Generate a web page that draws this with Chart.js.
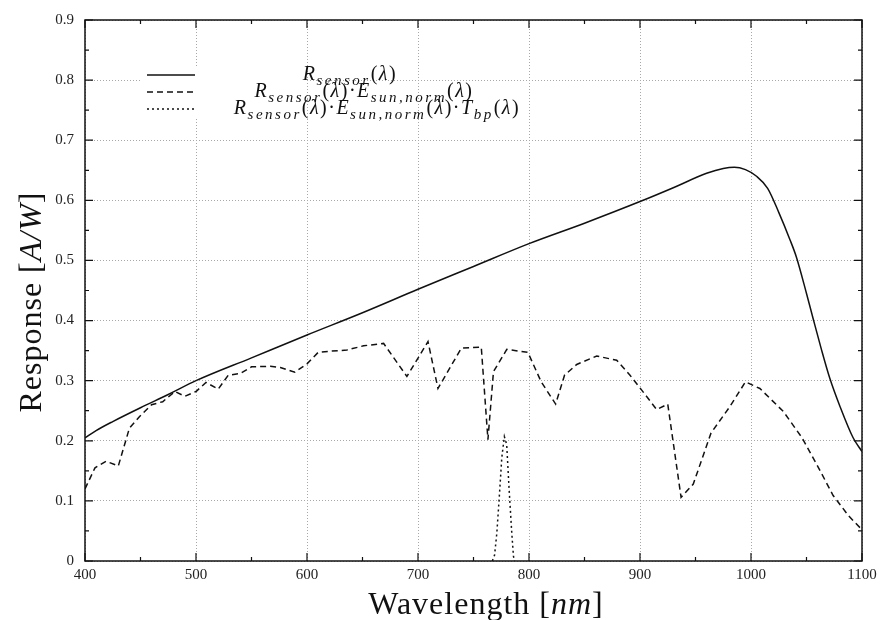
<!DOCTYPE html>
<html>
<head>
<meta charset="utf-8">
<script src="https://cdn.jsdelivr.net/npm/chart.js@4.4.0/dist/chart.umd.min.js"></script>
<style>
  html, body { margin: 0; padding: 0; background: #fff; }
</style>
</head>
<body>
<canvas id="respChart" width="885" height="620"></canvas>
<script>
// sensor responsivity R_sensor(lambda)
const sensorWl   = [400, 410, 425, 450, 475, 500, 550, 600, 650, 700, 750, 800, 850, 900, 930, 960, 975, 985, 995, 1005, 1015, 1025, 1035, 1041, 1050, 1056, 1063, 1071, 1080, 1092, 1100];
const sensorResp = [0.205, 0.217, 0.232, 0.255, 0.277, 0.300, 0.338, 0.376, 0.413, 0.452, 0.490, 0.528, 0.562, 0.598, 0.621, 0.645, 0.653, 0.655, 0.651, 0.640, 0.620, 0.580, 0.535, 0.505, 0.445, 0.403, 0.355, 0.304, 0.258, 0.205, 0.182];

// R_sensor * E_sun,norm
const sunWl   = [400, 409, 419, 430, 440, 449, 460, 470, 481, 490, 500, 509, 520, 529, 540, 550, 567, 576, 589, 600, 610, 621, 636, 651, 669, 690, 709, 718, 739, 757, 763, 768, 780, 799, 811, 824, 832, 843, 861, 879, 891, 900, 915, 925, 937, 948, 964, 981, 995, 1008, 1029, 1046, 1060, 1074, 1088, 1100];
const sunResp = [0.120, 0.155, 0.166, 0.158, 0.221, 0.240, 0.260, 0.265, 0.282, 0.274, 0.282, 0.297, 0.286, 0.309, 0.312, 0.323, 0.324, 0.322, 0.314, 0.328, 0.347, 0.349, 0.351, 0.358, 0.362, 0.307, 0.365, 0.287, 0.354, 0.356, 0.202, 0.315, 0.352, 0.347, 0.298, 0.261, 0.309, 0.327, 0.341, 0.334, 0.309, 0.288, 0.252, 0.261, 0.106, 0.128, 0.213, 0.257, 0.298, 0.287, 0.249, 0.205, 0.158, 0.109, 0.075, 0.052];

// R_sensor * E_sun,norm * T_bp (band pass)
const bpWl   = [767, 769, 771, 773, 775.5, 777.8, 779.9, 782, 784.5, 786, 787];
const bpResp = [0, 0.010, 0.046, 0.100, 0.172, 0.207, 0.194, 0.122, 0.046, 0.008, 0];

const xTickVals = [400, 500, 600, 700, 800, 900, 1000, 1100];
const yTickVals = [0, 0.1, 0.2, 0.3, 0.4, 0.5, 0.6, 0.7, 0.8, 0.9];

const serif = "'Liberation Serif', 'DejaVu Serif', serif";

function toPoints(xs, ys) {
  return xs.map((x, i) => ({ x: x, y: ys[i] }));
}

// pieces of "math" text: [text, kind] where kind is i (italic), r (roman), s (subscript)
function setMathFont(ctx, kind) {
  if (kind === 's') { ctx.font = 'italic 15px ' + serif; ctx.letterSpacing = '2.5px'; }
  else if (kind === 'i') { ctx.font = 'italic 20px ' + serif; ctx.letterSpacing = '1.5px'; }
  else { ctx.font = '20px ' + serif; ctx.letterSpacing = '1.5px'; }
}
function mathWidth(ctx, parts) {
  let w = 0;
  for (const [t, k] of parts) { setMathFont(ctx, k); w += ctx.measureText(t).width; }
  return w;
}
function drawMath(ctx, parts, cx, y) {
  let x = cx - mathWidth(ctx, parts) / 2;
  for (const [t, k] of parts) {
    setMathFont(ctx, k);
    ctx.fillText(t, x, k === 's' ? y + 5 : y);
    x += ctx.measureText(t).width;
  }
  ctx.letterSpacing = '0px';
}

const lab1 = [['R', 'i'], ['sensor', 's'], ['(', 'r'], ['λ', 'i'], [')', 'r']];
const lab2 = lab1.concat([['·', 'r'], ['E', 'i'], ['sun,norm', 's'], ['(', 'r'], ['λ', 'i'], [')', 'r']]);
const lab3 = lab2.concat([['·', 'r'], ['T', 'i'], ['bp', 's'], ['(', 'r'], ['λ', 'i'], [')', 'r']]);

const keyPlugin = {
  id: 'gnuKey',
  beforeDatasetsDraw(chart) {
    const ctx = chart.ctx;
    ctx.save();
    ctx.fillStyle = '#fff';
    ctx.fillRect(140, 66, 166, 52);
    ctx.restore();
  },
  afterDraw(chart) {
    const ctx = chart.ctx;
    const a = chart.chartArea;
    const xs = chart.scales.x, ys = chart.scales.y;
    ctx.save();
    ctx.strokeStyle = '#111';
    ctx.fillStyle = '#111';

    // frame
    ctx.lineWidth = 1.5;
    ctx.strokeRect(a.left, a.top, a.right - a.left, a.bottom - a.top);

    // inward ticks on all sides
    ctx.lineWidth = 1.2;
    ctx.beginPath();
    for (let v = 400; v <= 1100; v += 50) {
      const px = xs.getPixelForValue(v);
      const len = v % 100 === 0 ? 8 : 4;
      ctx.moveTo(px, a.bottom); ctx.lineTo(px, a.bottom - len);
      ctx.moveTo(px, a.top); ctx.lineTo(px, a.top + len);
    }
    for (let i = 0; i <= 18; i++) {
      const py = ys.getPixelForValue(i * 0.05);
      const len = i % 2 === 0 ? 8 : 4;
      ctx.moveTo(a.left, py); ctx.lineTo(a.left + len, py);
      ctx.moveTo(a.right, py); ctx.lineTo(a.right - len, py);
    }
    ctx.stroke();

    // key samples
    const styles = [[], [6, 4], [2, 3]];
    const rows = [75, 92, 109];
    ctx.lineWidth = 1.5;
    rows.forEach((ry, i) => {
      ctx.setLineDash(styles[i]);
      ctx.beginPath();
      ctx.moveTo(147, ry); ctx.lineTo(195, ry);
      ctx.stroke();
    });
    ctx.setLineDash([]);

    // key labels
    ctx.textBaseline = 'alphabetic';
    drawMath(ctx, lab1, 350, 80);
    drawMath(ctx, lab2, 364, 97);
    drawMath(ctx, lab3, 377, 114);

    // axis titles
    const xt = [['Wavelength [', 'R'], ['nm', 'I'], [']', 'R']];
    const yt = [['Response [', 'R'], ['A/W', 'I'], [']', 'R']];
    const tf = k => (k === 'I' ? 'italic ' : '') + '32px ' + serif;
    ctx.letterSpacing = '1px';
    function titleWidth(parts) {
      let w = 0;
      for (const [t, k] of parts) { ctx.font = tf(k); w += ctx.measureText(t).width; }
      return w;
    }
    let x0 = 486 - titleWidth(xt) / 2;
    for (const [t, k] of xt) { ctx.font = tf(k); ctx.fillText(t, x0, 614); x0 += ctx.measureText(t).width; }

    ctx.translate(41, 302);
    ctx.rotate(-Math.PI / 2);
    let y0 = -titleWidth(yt) / 2;
    for (const [t, k] of yt) { ctx.font = tf(k); ctx.fillText(t, y0, 0); y0 += ctx.measureText(t).width; }
    ctx.letterSpacing = '0px';
    ctx.restore();
  }
};

const ctx = document.getElementById('respChart').getContext('2d');
const chart = new Chart(ctx, {
  type: 'line',
  data: {
    datasets: [
      {
        label: 'R_sensor',
        data: toPoints(sensorWl, sensorResp),
        borderColor: '#111',
        borderWidth: 1.5,
        pointRadius: 0,
        cubicInterpolationMode: 'monotone'
      },
      {
        label: 'R_sensor E_sun,norm',
        data: toPoints(sunWl, sunResp),
        borderColor: '#111',
        borderWidth: 1.5,
        borderDash: [6, 4],
        pointRadius: 0,
        tension: 0
      },
      {
        label: 'R_sensor E_sun,norm T_bp',
        data: toPoints(bpWl, bpResp),
        borderColor: '#111',
        borderWidth: 1.5,
        borderDash: [2, 3],
        pointRadius: 0,
        tension: 0
      }
    ]
  },
  options: {
    responsive: false,
    animation: false,
    devicePixelRatio: 1,
    layout: { padding: { top: 15, right: 23, left: 0, bottom: 0 } },
    plugins: {
      legend: { display: false },
      tooltip: { enabled: false }
    },
    scales: {
      x: {
        type: 'linear',
        min: 400,
        max: 1100,
        afterBuildTicks: s => { s.ticks = xTickVals.map(v => ({ value: v })); },
        afterFit: s => { s.height = 59; },
        ticks: {
          padding: 5,
          color: '#222',
          font: { family: serif, size: 15 },
          callback: v => String(v)
        },
        grid: { color: '#a8a8a8', lineWidth: 1, drawTicks: false },
        border: { display: false, dash: [1, 2] }
      },
      y: {
        min: 0,
        max: 0.9,
        afterBuildTicks: s => { s.ticks = yTickVals.map(v => ({ value: v })); },
        afterFit: s => { s.width = 85; },
        ticks: {
          padding: 11,
          color: '#222',
          font: { family: serif, size: 15 },
          callback: v => String(v)
        },
        grid: { color: '#a8a8a8', lineWidth: 1, drawTicks: false },
        border: { display: false, dash: [1, 2] }
      }
    }
  },
  plugins: [keyPlugin]
});
</script>
</body>
</html>
